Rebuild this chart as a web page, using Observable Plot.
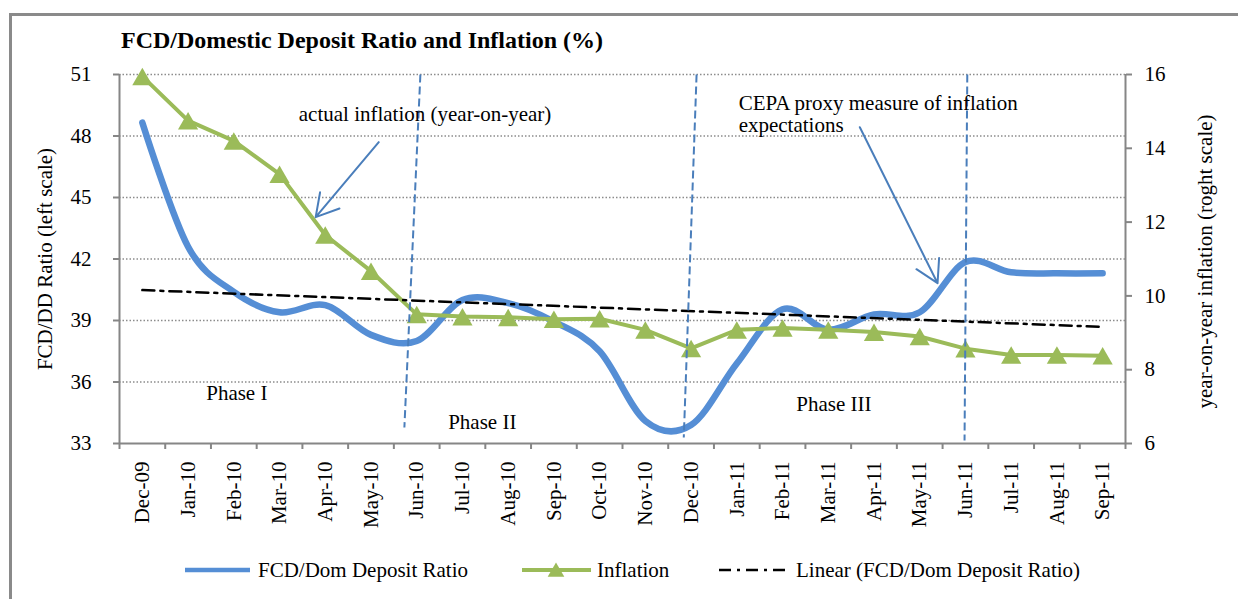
<!DOCTYPE html>
<html><head><meta charset="utf-8">
<script src="https://cdn.jsdelivr.net/npm/d3@7"></script>
<script src="https://cdn.jsdelivr.net/npm/@observablehq/plot@0.6"></script>
<style>
body{margin:0;background:#fff;}
#wrap{position:relative;width:1238px;height:599px;overflow:hidden;font-family:"Liberation Serif","Times New Roman",serif;background:#fff;}
#frame{position:absolute;left:9px;top:13px;width:1300px;height:700px;border-left:3px solid #8a8a8a;border-top:3px solid #8a8a8a;box-sizing:border-box;}
#title{position:absolute;left:121px;top:28px;font-weight:bold;font-size:24px;line-height:24px;white-space:nowrap;color:#000;}
#chart{position:absolute;left:0;top:0;}
#legend{position:absolute;left:0;top:548px;}
</style></head><body>
<div id="wrap"><div id="chart"></div><div id="frame"></div><div id="title">FCD/Domestic Deposit Ratio and Inflation (%)</div><svg id="legend" width="1238" height="45"></svg></div>
<script>
// ---- data ----
const months = ["Dec-09","Jan-10","Feb-10","Mar-10","Apr-10","May-10","Jun-10","Jul-10","Aug-10","Sep-10","Oct-10","Nov-10","Dec-10","Jan-11","Feb-11","Mar-11","Apr-11","May-11","Jun-11","Jul-11","Aug-11","Sep-11"];
const fcdRatio = [48.65,42.6,40.4,39.4,39.75,38.3,38.0,40.0,39.85,38.95,37.5,34.1,33.9,36.9,39.55,38.55,39.3,39.4,41.85,41.35,41.3,41.3];
const inflation = [15.95,14.75,14.2,13.3,11.65,10.67,9.5,9.44,9.42,9.37,9.38,9.08,8.58,9.08,9.13,9.08,9.02,8.9,8.57,8.4,8.4,8.38];
const leftTicks = [33,36,39,42,45,48,51];
const rightTicks = [6,8,10,12,14,16];
// annotations (in data units: x = month index, y = left scale)
const phaseLines = [{x1:6.08,y1:51,x2:5.73,y2:33.78},{x1:12.12,y1:51,x2:11.84,y2:33.29},{x1:18.04,y1:51,x2:17.98,y2:33.15}];
const arrows = [{x1:5.17,y1:47.70,x2:3.79,y2:44.04},{x1:15.69,y1:48.43,x2:17.39,y2:40.82}];
const notes = [
  {x:3.42,y:48.71,text:"actual inflation (year-on-year)"},
  {x:13.04,y:48.19,text:"CEPA proxy measure of inflation\nexpectations"},
  {x:1.396,y:35.13,text:"Phase I"},
  {x:6.688,y:33.72,text:"Phase II"},
  {x:14.30,y:34.58,text:"Phase III"}
];
const axisTitles = [
  {x:-2.118,y:42.0,text:"FCD/DD Ratio (left scale)"},
  {x:23.25,y:41.88,text:"year-on-year inflation (roght scale)"}
];

// ---- helpers ----
const L0 = 33, L1 = 51, R0 = 6, R1 = 16;
const toLeft = v => L0 + (v - R0) * (L1 - L0) / (R1 - R0);
const fromLeft = v => R0 + (v - L0) * (R1 - R0) / (L1 - L0);
const rows = months.map((m, i) => ({i, m, fcd: fcdRatio[i], infl: inflation[i], inflL: toLeft(inflation[i])}));

const blue = "#558ed5", green = "#9bbb59", dashBlue = "#4a7ebb", axisGray = "#868686";
const FS = 21;
const trendDash = "12,6,3,6";

const plot = Plot.plot({
  width: 1238, height: 540,
  marginLeft: 119, marginRight: 113, marginTop: 74, marginBottom: 97,
  style: {background: "transparent", fontFamily: "'Liberation Serif', 'Times New Roman', serif", fontSize: FS + "px", color: "#000"},
  x: {domain: [-0.5, 21.5], axis: null},
  y: {domain: [L0, L1], axis: null},
  marks: [
    Plot.ruleY(leftTicks.filter(d => d > L0), {x1: -0.5, x2: 21.5, stroke: "#8c8c8c", strokeWidth: 1.3, strokeDasharray: "1.5,2"}),
    Plot.ruleY([L0], {x1: -0.5, x2: 21.5, stroke: axisGray, strokeWidth: 2}),
    Plot.ruleX([-0.5, 21.5], {y1: L0, y2: L1, stroke: axisGray, strokeWidth: 2}),
    Plot.axisX({ticks: d3.range(-0.5, 22, 1), tickSize: 6, tickFormat: () => "", stroke: axisGray, strokeWidth: 2, label: null}),
    Plot.text(rows, {x: "i", y: L0, text: "m", rotate: -90, textAnchor: "end", lineAnchor: "middle", dy: 18, fontSize: FS, fill: "#000"}),
    Plot.axisY({anchor: "left", ticks: leftTicks, tickSize: 6, tickPadding: 22, stroke: axisGray, strokeWidth: 2, fill: "#000", fontSize: FS, label: null}),
    Plot.axisY({anchor: "right", ticks: rightTicks.map(toLeft), tickFormat: v => String(Math.round(fromLeft(v))), tickSize: 6, tickPadding: 13, stroke: axisGray, strokeWidth: 2, fill: "#000", fontSize: FS, label: null}),
    Plot.text(axisTitles, {x: "x", y: "y", text: "text", rotate: -90, textAnchor: "middle", lineAnchor: "middle", fontSize: FS, fill: "#000"}),
    Plot.line(rows, {x: "i", y: "fcd", curve: "cardinal", stroke: blue, strokeWidth: 6.5, strokeLinecap: "round", strokeLinejoin: "round"}),
    Plot.line(rows, {x: "i", y: "inflL", stroke: green, strokeWidth: 4}),
    Plot.dot(rows, {x: "i", y: "inflL", symbol: "triangle", r: 7.5, fill: green, stroke: "none", dy: 3}),
    Plot.linearRegressionY(rows, {x: "i", y: "fcd", ci: 0, stroke: "#000", strokeWidth: 2.5, strokeDasharray: trendDash}),
    Plot.link(phaseLines, {x1: "x1", y1: "y1", x2: "x2", y2: "y2", stroke: dashBlue, strokeWidth: 2, strokeDasharray: "8,4"}),
    Plot.arrow(arrows, {x1: "x1", y1: "y1", x2: "x2", y2: "y2", stroke: dashBlue, strokeWidth: 2, headLength: 19, headAngle: 60}),
    Plot.text(notes, {x: "x", y: "y", text: "text", textAnchor: "start", lineAnchor: "bottom", lineHeight: 1.07, fontSize: FS, fill: "#000"})
  ]
});
document.getElementById("chart").appendChild(plot);

// ---- legend ----
const lg = d3.select("#legend").style("font-family", "'Liberation Serif', 'Times New Roman', serif").style("font-size", FS + "px");
const ly = 22, lb = 29;
lg.append("line").attr("x1", 185).attr("x2", 250).attr("y1", ly).attr("y2", ly).attr("stroke", blue).attr("stroke-width", 4.5);
lg.append("text").attr("x", 258).attr("y", lb).text("FCD/Dom Deposit Ratio");
lg.append("line").attr("x1", 522).attr("x2", 591).attr("y1", ly).attr("y2", ly).attr("stroke", green).attr("stroke-width", 4);
lg.append("path").attr("d", d3.symbol(d3.symbolTriangle, 120)()).attr("transform", `translate(556,${ly + 2})`).attr("fill", green);
lg.append("text").attr("x", 597).attr("y", lb).text("Inflation");
lg.append("line").attr("x1", 719).attr("x2", 787).attr("y1", ly).attr("y2", ly).attr("stroke", "#000").attr("stroke-width", 2.5).attr("stroke-dasharray", trendDash);
lg.append("text").attr("x", 796).attr("y", lb).text("Linear (FCD/Dom Deposit Ratio)");
</script>
</body></html>
